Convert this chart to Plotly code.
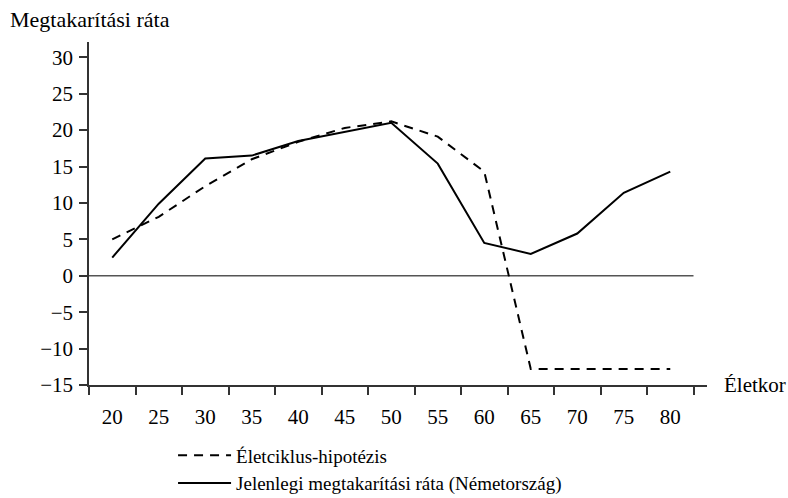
import plotly.graph_objects as go

# Életkor (évek)
ages = [20, 25, 30, 35, 40, 45, 50, 55, 60, 65, 70, 75, 80]
# Életciklus-hipotézis szerinti megtakarítási ráta (%)
lifecycle = [5.0, 8.1, 12.3, 16.0, 18.4, 20.3, 21.2, 19.1, 14.3, -12.8, -12.8, -12.8, -12.8]
# Jelenlegi megtakarítási ráta, Németország (%)
germany = [2.5, 9.9, 16.1, 16.5, 18.5, 19.7, 21.0, 15.4, 4.5, 3.0, 5.8, 11.4, 14.3]

y_ticks = [-15, -10, -5, 0, 5, 10, 15, 20, 25, 30]

FONT = "Liberation Serif"
AXIS_COLOR = "#333333"

fig = go.Figure()
fig.add_trace(go.Scatter(
    x=ages, y=lifecycle, mode="lines", name="Életciklus-hipotézis",
    line=dict(color="black", width=2, dash="9px,7px"),
))
fig.add_trace(go.Scatter(
    x=ages, y=germany, mode="lines", name="Jelenlegi megtakarítási ráta (Németország)",
    line=dict(color="black", width=2),
))

# nullvonal csak az utolsó osztásig
fig.add_shape(type="line", xref="x", yref="y", x0=17.5, x1=82.5, y0=0, y1=0,
              line=dict(color="#555555", width=1.5), layer="below")

fig.add_annotation(text="Megtakarítási ráta", xref="paper", yref="paper",
                   x=-0.131, y=1.065, xanchor="left", yanchor="middle",
                   showarrow=False, font=dict(family=FONT, size=22, color="black"))
fig.add_annotation(text="Életkor", xref="paper", yref="y",
                   x=1.024, y=-15, xanchor="left", yanchor="middle",
                   showarrow=False, font=dict(family=FONT, size=21, color="black"))

fig.update_layout(
    width=788, height=498,
    margin=dict(l=89, r=81, t=42, b=113, autoexpand=False),
    paper_bgcolor="white", plot_bgcolor="white",
    font=dict(family=FONT, size=21, color="black"),
    showlegend=True,
    legend=dict(orientation="v", x=0.136, xanchor="left", y=-0.15, yanchor="top",
                itemwidth=53, tracegroupgap=0, font=dict(family=FONT, size=19),
                bgcolor="rgba(0,0,0,0)"),
)
fig.update_xaxes(
    range=[17.5, 83.95], tickvals=ages, ticks="", showgrid=False, zeroline=False,
    showline=True, linecolor=AXIS_COLOR, linewidth=1.5, ticklabelstandoff=12,
    minor=dict(ticks="outside", tick0=17.5, dtick=5, ticklen=8,
               tickcolor=AXIS_COLOR, tickwidth=1.5, showgrid=False),
)
fig.update_yaxes(
    range=[-15, 32.1], tickvals=y_ticks, ticks="outside", ticklen=8,
    tickcolor=AXIS_COLOR, tickwidth=1.5, showgrid=False, zeroline=False,
    showline=True, linecolor=AXIS_COLOR, linewidth=1.5, ticklabelstandoff=2,
)

# az oldal alapértelmezett margója nélkül, görgetősáv és eszköztár nélkül
fig.write_html("out.html", config={"displayModeBar": False},
               post_script="document.body.style.margin='0';"
                           "document.body.style.overflow='hidden';")
